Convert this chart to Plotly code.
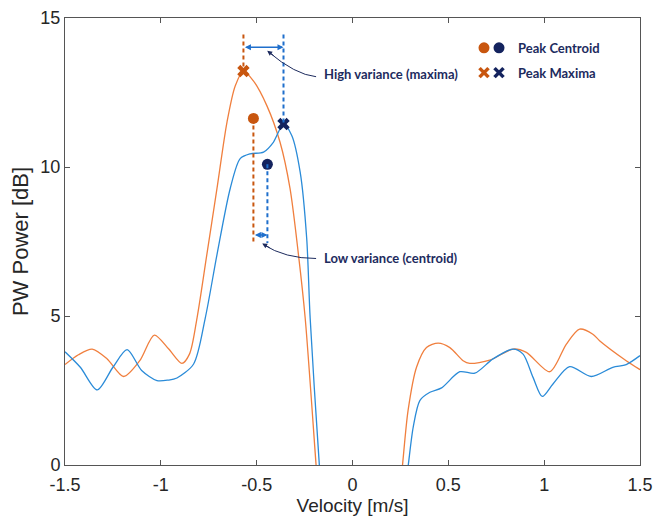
import plotly.graph_objects as go

# ---- data ----
vel_orange = [-1.5, -1.43, -1.358, -1.28, -1.194, -1.11, -1.034, -0.96, -0.89, -0.85, -0.811, -0.76,
              -0.707, -0.655, -0.612, -0.569, -0.517, -0.447, -0.378, -0.326, -0.282, -0.247, -0.19, -0.17,
              None,
              0.25, 0.261, 0.29, 0.334, 0.386, 0.447, 0.508, 0.577, 0.612, 0.716, 0.838, 0.907, 1.029,
              1.116, 1.185, 1.254, 1.289, 1.428, 1.5]
pw_orange = [3.37, 3.7, 3.89, 3.56, 2.97, 3.5, 4.36, 3.9, 3.41, 3.73, 4.94, 7.06,
             9.28, 11.5, 12.72, 13.22, 12.89, 12.06, 10.83, 9.28, 7.06, 4.94, 0.0, -1.7,
             None,
             -0.7, 0.0, 1.83, 3.28, 3.94, 4.09, 3.94, 3.5, 3.41, 3.52, 3.89, 3.78, 3.13,
             4.06, 4.56, 4.39, 4.17, 3.5, 3.2]

vel_blue = [-1.5, -1.42, -1.332, -1.25, -1.176, -1.1, -1.02, -0.96, -0.916, -0.829, -0.768, -0.707,
            -0.638, -0.586, -0.534, -0.464, -0.413, -0.36, -0.317, -0.273, -0.239, -0.221, -0.173, -0.16,
            None,
            0.275, 0.291, 0.317, 0.352, 0.404, 0.465, 0.56, 0.638, 0.733, 0.838, 0.89, 0.942, 0.99,
            1.046, 1.133, 1.246, 1.358, 1.428, 1.5]
pw_blue = [3.8, 3.28, 2.52, 3.28, 3.87, 3.17, 2.83, 2.85, 2.92, 3.39, 4.94, 7.06,
           9.28, 10.28, 10.44, 10.5, 10.83, 11.44, 11.06, 9.83, 7.61, 4.94, 0.0, -1.0,
           None,
           -0.8, 0.0, 1.28, 2.17, 2.44, 2.59, 3.13, 3.08, 3.56, 3.89, 3.72, 2.94, 2.3,
           2.72, 3.3, 2.97, 3.28, 3.37, 3.67]

centroid_vel = [-0.517, -0.444]     # orange, blue
centroid_pw = [11.63, 10.09]
maxima_vel = [-0.569, -0.36]
maxima_pw = [13.22, 11.44]

x_ticks = [-1.5, -1, -0.5, 0, 0.5, 1, 1.5]
x_tick_text = ["-1.5", "-1", "-0.5", "0", "0.5", "1", "1.5"]
y_ticks = [0, 5, 10, 15]

# ---- styles ----
C_ORANGE_LINE = "#F07F3E"
C_BLUE_LINE = "#2A8BD8"
C_ORANGE_MK = "#C8560F"
C_NAVY = "#14235E"
C_BLUE_DASH = "#1F6FCC"
C_TEXT = "#1D2B5E"
FONT_ANN = "Lato"
FONT_AX = "Liberation Sans, Arial"

fig = go.Figure()
fig.add_trace(go.Scatter(x=vel_orange, y=pw_orange, mode="lines", line=dict(color=C_ORANGE_LINE, width=1.3, shape="spline", smoothing=0.8),
                         connectgaps=False, showlegend=False, hoverinfo="skip"))
fig.add_trace(go.Scatter(x=vel_blue, y=pw_blue, mode="lines", line=dict(color=C_BLUE_LINE, width=1.3, shape="spline", smoothing=0.8),
                         connectgaps=False, showlegend=False, hoverinfo="skip"))

# dashed guide lines (from markers)
top_y = 14.45
low_y = 7.45
shapes = []
for vx, vy, col in [(maxima_vel[0], maxima_pw[0], C_ORANGE_MK), (maxima_vel[1], maxima_pw[1], C_BLUE_DASH)]:
    shapes.append(dict(type="line", xref="x", yref="y", x0=vx, x1=vx, y0=top_y, y1=vy,
                       line=dict(color=col, width=2, dash="4px,3px")))
for vx, vy, col in [(centroid_vel[0], centroid_pw[0], C_ORANGE_MK), (centroid_vel[1], centroid_pw[1], C_BLUE_DASH)]:
    shapes.append(dict(type="line", xref="x", yref="y", x0=vx, x1=vx, y0=vy, y1=low_y,
                       line=dict(color=col, width=2, dash="4px,3px")))

# curved callout arrows (quadratic bezier paths)
shapes.append(dict(type="path", xref="x", yref="y",
                   path="M -0.190,13.03 Q -0.299,13.10 -0.440,13.87",
                   line=dict(color=C_TEXT, width=1)))
shapes.append(dict(type="path", xref="x", yref="y",
                   path="M -0.190,6.93 Q -0.352,6.93 -0.466,7.40",
                   line=dict(color=C_TEXT, width=1)))

# legend glyphs (paper coordinates, pixel sized)
def circ(xp, yp, col):
    return dict(type="circle", xref="paper", yref="paper", xsizemode="pixel", ysizemode="pixel",
                xanchor=xp, yanchor=yp, x0=-5.5, x1=5.5, y0=-5.5, y1=5.5,
                fillcolor=col, line=dict(color=col, width=0))

def xmark(xp, yp, col):
    s = 4.5
    return [dict(type="line", xref="paper", yref="paper", xsizemode="pixel", ysizemode="pixel",
                 xanchor=xp, yanchor=yp, x0=-s, x1=s, y0=-s, y1=s, line=dict(color=col, width=3.5)),
            dict(type="line", xref="paper", yref="paper", xsizemode="pixel", ysizemode="pixel",
                 xanchor=xp, yanchor=yp, x0=-s, x1=s, y0=s, y1=-s, line=dict(color=col, width=3.5))]

lx1, lx2, ltext = 0.7287, 0.7548, 0.7843
ly1, ly2 = 0.9333, 0.8778
shapes.append(circ(lx1, ly1, C_ORANGE_MK))
shapes.append(circ(lx2, ly1, C_NAVY))
shapes += xmark(lx1, ly2, C_ORANGE_MK)
shapes += xmark(lx2, ly2, C_NAVY)

# markers
fig.add_trace(go.Scatter(x=centroid_vel, y=centroid_pw, mode="markers",
                         marker=dict(symbol="circle", size=11, color=[C_ORANGE_MK, C_NAVY]),
                         showlegend=False, hoverinfo="skip"))
fig.add_trace(go.Scatter(x=maxima_vel, y=maxima_pw, mode="markers",
                         marker=dict(symbol="x", size=11, color=[C_ORANGE_MK, C_NAVY]),
                         showlegend=False, hoverinfo="skip"))

annotations = [
    # double arrows
    dict(x=maxima_vel[1], y=14.02, ax=maxima_vel[0], ay=14.02, xref="x", yref="y", axref="x", ayref="y",
         text="", showarrow=True, arrowhead=2, startarrowhead=2, arrowside="end+start",
         arrowsize=0.8, startarrowsize=0.8, arrowwidth=1.5, arrowcolor=C_BLUE_DASH),
    dict(x=centroid_vel[1], y=7.72, ax=centroid_vel[0], ay=7.72, xref="x", yref="y", axref="x", ayref="y",
         text="", showarrow=True, arrowhead=2, startarrowhead=2, arrowside="end+start",
         arrowsize=0.8, startarrowsize=0.8, arrowwidth=1.5, arrowcolor=C_BLUE_DASH),
    # arrowheads of the curved callouts
    dict(x=-0.445, y=13.9, ax=8, ay=6, xref="x", yref="y", text="", showarrow=True,
         arrowhead=2, arrowsize=1, arrowwidth=1, arrowcolor=C_TEXT),
    dict(x=-0.471, y=7.43, ax=9, ay=5, xref="x", yref="y", text="", showarrow=True,
         arrowhead=2, arrowsize=1, arrowwidth=1, arrowcolor=C_TEXT),
    # callout texts
    dict(x=-0.159, y=13.13, xref="x", yref="y", xanchor="left", yanchor="middle", showarrow=False,
         text="<b>High variance (maxima)</b>", font=dict(family=FONT_ANN, size=13, color=C_TEXT)),
    dict(x=-0.159, y=6.93, xref="x", yref="y", xanchor="left", yanchor="middle", showarrow=False,
         text="<b>Low variance (centroid)</b>", font=dict(family=FONT_ANN, size=13, color=C_TEXT)),
    # legend texts
    dict(x=ltext, y=ly1, xref="paper", yref="paper", xanchor="left", yanchor="middle", showarrow=False,
         text="<b>Peak Centroid</b>", font=dict(family=FONT_ANN, size=13, color=C_TEXT)),
    dict(x=ltext, y=ly2, xref="paper", yref="paper", xanchor="left", yanchor="middle", showarrow=False,
         text="<b>Peak Maxima</b>", font=dict(family=FONT_ANN, size=13, color=C_TEXT)),
]

axis_common = dict(showline=True, linecolor="#555555", linewidth=1, mirror="ticks", ticks="inside",
                   ticklen=5, tickcolor="#555555", showgrid=False, zeroline=False, automargin=False,
                   ticklabeloverflow="allow",
                   tickfont=dict(family=FONT_AX, size=18, color="#262626"))

fig.update_layout(
    width=666, height=522,
    margin=dict(l=57, r=34, t=10, b=65),
    paper_bgcolor="white", plot_bgcolor="white",
    shapes=shapes, annotations=annotations,
    xaxis=dict(range=[-1.5, 1.5], tickvals=x_ticks, ticktext=x_tick_text, ticklabelstandoff=3,
               title=dict(text="Velocity [m/s]", font=dict(family=FONT_AX, size=19, color="#262626"), standoff=0),
               **axis_common),
    yaxis=dict(range=[0, 15], tickvals=y_ticks, ticklabelstandoff=0,
               title=dict(text="PW Power [dB]", font=dict(family=FONT_AX, size=22, color="#262626"), standoff=5),
               **axis_common),
)

fig.write_html("out.html")
